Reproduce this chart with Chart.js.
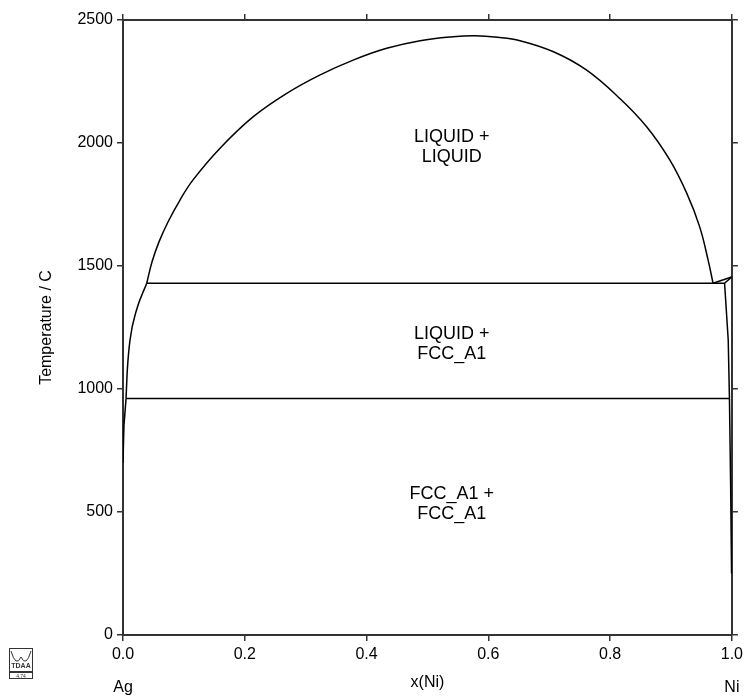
<!DOCTYPE html>
<html lang="en">
<head>
  <meta charset="UTF-8">
  <title>Ag-Ni phase diagram</title>
  <script src="https://cdn.jsdelivr.net/npm/chart.js"></script>
  <style>
    html, body { margin: 0; padding: 0; background: #fff; }
    .chart-box { width: 747px; height: 699px; position: relative; }
  </style>
</head>
<body>
  <div class="chart-box">
    <canvas id="phaseChart" width="747" height="699"></canvas>
  </div>

  <script>
    // phase boundaries (x = mole fraction Ni, T in C)
    // liquid miscibility gap above the monotectic
    const domeX = [0.039, 0.0476, 0.0591, 0.0739, 0.0936, 0.115, 0.159, 0.214, 0.269, 0.323, 0.378, 0.433, 0.488, 0.542, 0.578, 0.615, 0.652, 0.707, 0.761, 0.816, 0.860, 0.898, 0.926, 0.947, 0.961, 0.969];
    const domeT = [1430, 1516, 1598, 1679, 1768, 1850, 1978, 2107, 2202, 2276, 2337, 2385, 2416, 2432, 2436, 2430, 2416, 2371, 2297, 2181, 2066, 1931, 1795, 1660, 1524, 1430];

    // Ag-side liquidus between eutectic and monotectic
    const agLiquidusX = [0.005, 0.0071, 0.0115, 0.0222, 0.039];
    const agLiquidusT = [961, 1077, 1199, 1321, 1430];

    const agSolvusX = [0.005, 0.0015, 0.0];
    const agSolvusT = [961, 850, 700];

    const monotecticX = [0.039, 0.988];
    const monotecticT = [1430, 1430];

    const eutecticX = [0.005, 0.996];
    const eutecticT = [961, 961];

    const niLiquidusX = [0.969, 0.9995];
    const niLiquidusT = [1430, 1455];

    const niSolidusX = [0.988, 0.9995];
    const niSolidusT = [1430, 1455];

    const niSolvusX = [0.988, 0.994, 0.996, 0.998, 0.9995];
    const niSolvusT = [1430, 1199, 961, 600, 250];

    const xTicks = [0, 0.2, 0.4, 0.6, 0.8, 1.0];
    const yTicks = [0, 500, 1000, 1500, 2000, 2500];

    function pts(xs, ts) {
      return xs.map((x, i) => ({ x: x, y: ts[i] }));
    }

    function line(xs, ts, smooth) {
      const ds = {
        data: pts(xs, ts),
        showLine: true,
        borderColor: '#000',
        borderWidth: 1.5,
        pointRadius: 0,
        fill: false,
        tension: 0
      };
      if (smooth === 'monotone') ds.cubicInterpolationMode = 'monotone';
      else if (smooth) ds.tension = smooth;
      return ds;
    }

    const FONT = 'Liberation Sans, Arial, sans-serif';

    // texts, axis titles and the little logo
    const extraText = {
      id: 'extraText',
      afterDraw(chart) {
        const c = chart.ctx;
        const sx = chart.scales.x, sy = chart.scales.y;
        c.save();
        c.fillStyle = '#000';
        c.textAlign = 'center';
        c.textBaseline = 'middle';

        c.font = '18px ' + FONT;
        const regions = [
          ['LIQUID +', 'LIQUID', 1985],
          ['LIQUID +', 'FCC_A1', 1183],
          ['FCC_A1 +', 'FCC_A1', 532]
        ];
        const cx = sx.getPixelForValue(0.54);
        regions.forEach(r => {
          const py = sy.getPixelForValue(r[2]);
          c.fillText(r[0], cx, py - 10);
          c.fillText(r[1], cx, py + 10);
        });

        c.font = '16px ' + FONT;
        c.fillText('x(Ni)', sx.getPixelForValue(0.5), 683);
        c.fillText('Ag', sx.getPixelForValue(0), 688);
        c.fillText('Ni', sx.getPixelForValue(1), 688);

        c.translate(47, (chart.chartArea.top + chart.chartArea.bottom) / 2);
        c.rotate(-Math.PI / 2);
        c.fillText('Temperature / C', 0, 0);
        c.restore();

        // logo
        c.save();
        c.strokeStyle = '#333';
        c.lineWidth = 1;
        c.strokeRect(9.5, 648.5, 23, 23);
        c.beginPath();
        c.moveTo(11, 651);
        c.quadraticCurveTo(16, 668, 21, 657);
        c.quadraticCurveTo(26, 668, 31, 651);
        c.stroke();
        c.fillStyle = '#333';
        c.font = 'bold 7px ' + FONT;
        c.textAlign = 'center';
        c.fillText('TDAA', 21, 668);
        c.strokeRect(9.5, 672.5, 23, 6);
        c.font = '5px ' + FONT;
        c.fillText('4.74', 21, 678);
        c.restore();
      }
    };

    const tickGrid = { drawOnChartArea: false, drawTicks: true, tickLength: 6, color: '#333', lineWidth: 1.5 };
    const axisBorder = { color: '#333', width: 2 };

    new Chart(document.getElementById('phaseChart'), {
      type: 'scatter',
      data: {
        datasets: [
          line(domeX, domeT, 0.4),
          line(agLiquidusX, agLiquidusT, 'monotone'),
          line(agSolvusX, agSolvusT),
          line(monotecticX, monotecticT),
          line(eutecticX, eutecticT),
          line(niLiquidusX, niLiquidusT),
          line(niSolidusX, niSolidusT),
          line(niSolvusX, niSolvusT)
        ]
      },
      options: {
        responsive: false,
        animation: false,
        layout: { padding: 0 },
        plugins: {
          legend: { display: false },
          tooltip: { enabled: false }
        },
        scales: {
          x: {
            type: 'linear', position: 'bottom', min: 0, max: 1,
            afterBuildTicks: s => { s.ticks = xTicks.map(v => ({ value: v })); },
            ticks: { callback: v => v.toFixed(1), font: { size: 16, family: FONT }, color: '#000', padding: 4, maxRotation: 0 },
            grid: tickGrid, border: axisBorder,
            afterFit: s => { s.height = 64; }
          },
          xTop: {
            type: 'linear', position: 'top', min: 0, max: 1,
            afterBuildTicks: s => { s.ticks = xTicks.map(v => ({ value: v })); },
            ticks: { display: false },
            grid: tickGrid, border: axisBorder,
            afterFit: s => { s.height = 20; }
          },
          y: {
            type: 'linear', position: 'left', min: 0, max: 2500,
            afterBuildTicks: s => { s.ticks = yTicks.map(v => ({ value: v })); },
            ticks: { callback: v => String(v), font: { size: 16, family: FONT }, color: '#000', padding: 4 },
            grid: tickGrid, border: axisBorder,
            afterFit: s => { s.width = 123; }
          },
          yRight: {
            type: 'linear', position: 'right', min: 0, max: 2500,
            afterBuildTicks: s => { s.ticks = yTicks.map(v => ({ value: v })); },
            ticks: { display: false },
            grid: tickGrid, border: axisBorder,
            afterFit: s => { s.width = 15; }
          }
        }
      },
      plugins: [extraText]
    });
  </script>
</body>
</html>
